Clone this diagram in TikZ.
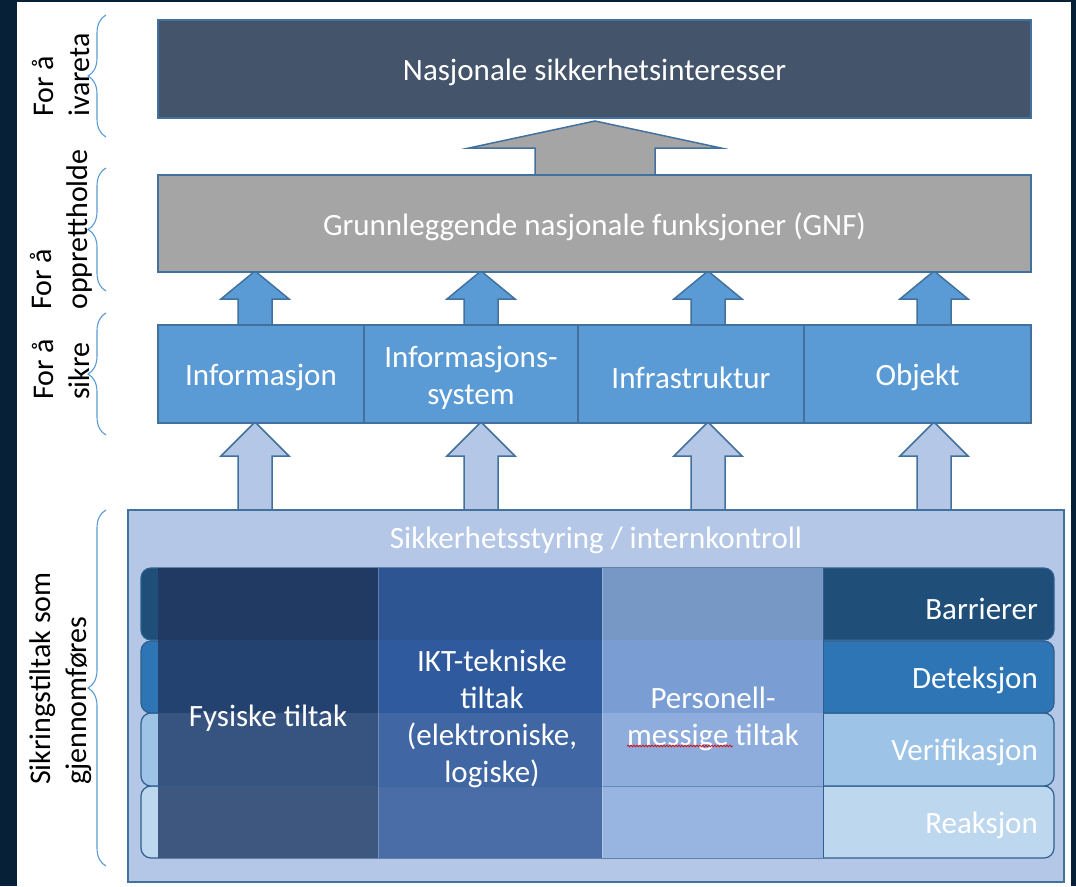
\documentclass[tikz,border=0pt]{standalone}
\usepackage{fontspec}
\setmainfont{Carlito}
\usetikzlibrary{decorations.pathreplacing,decorations.pathmorphing}
\definecolor{bgdark}{HTML}{062038}
\definecolor{topc}{HTML}{44546A}
\definecolor{gnfc}{HTML}{A5A5A5}
\definecolor{rowc}{HTML}{5B9BD5}
\definecolor{lightc}{HTML}{B4C7E7}
\definecolor{edge}{HTML}{41719C}
\definecolor{rowedge}{HTML}{2F5F8F}
\definecolor{rA}{HTML}{1F4E79}
\definecolor{rB}{HTML}{2E75B6}
\definecolor{rC}{HTML}{9DC3E6}
\definecolor{rD}{HTML}{BDD7EE}
\definecolor{cAa}{HTML}{213A63}
\definecolor{cAb}{HTML}{23426F}
\definecolor{cAc}{HTML}{37537F}
\definecolor{cAd}{HTML}{3E577F}
\definecolor{cBa}{HTML}{2D5591}
\definecolor{cBb}{HTML}{2F5A9D}
\definecolor{cBc}{HTML}{4066A3}
\definecolor{cBd}{HTML}{4A6DA8}
\definecolor{cCa}{HTML}{7797C4}
\definecolor{cCb}{HTML}{7A9ED4}
\definecolor{cCc}{HTML}{8EADDD}
\definecolor{cCd}{HTML}{98B4E0}
\definecolor{bracec}{HTML}{5B9BD5}
\newcommand\blkarrow[7]{\draw[#1] ({#2-#7},#5) -- ({#2-#7},#4) -- ({#2-#6},#4) -- (#2,#3) -- ({#2+#6},#4) -- ({#2+#7},#4) -- ({#2+#7},#5) -- cycle;}
\begin{document}
\begin{tikzpicture}[x=1pt,y=-1pt,
  txt/.style={text=white, font=\fontsize{31}{37}\selectfont, align=center, inner sep=0pt, yshift=-3.5pt},
  box/.style={draw=edge, line width=1.5pt, inner sep=0pt},
  lbl/.style={text=black, font=\fontsize{30}{36}\selectfont, align=left, inner sep=0pt, rotate=90, anchor=west},
  brc/.style={draw=bracec, line width=1.1pt, decorate, decoration={brace, amplitude=18pt}},
  grayarrow/.style={fill=gnfc, draw=edge, line width=1.5pt, line join=miter},
  bluearrow/.style={fill=rowc, draw=edge, line width=1.5pt, line join=miter},
  lightarrow/.style={fill=lightc, draw=edge, line width=1.5pt, line join=miter},
  rowbox/.style={draw=rowedge, line width=1.2pt, rounded corners=10pt},
  rowlbl/.style={txt, anchor=east}
]
\useasboundingbox (0,0) rectangle (1076,886);
\fill[bgdark] (0,0) rectangle (1076,886);
\fill[white] (17,2) rectangle (1071,886);

% left labels
\node[lbl] (l1) at (61,117) {For å\\ivareta};
\node[lbl] (l2) at (61,310) {For å\\opprettholde};
\node[lbl] (l3) at (61,400) {For å\\sikre};
\node[lbl] (l4) at (61,785) {Sikringstiltak som\\gjennomføres};
% braces
\coordinate (b1s) at (106,137); \coordinate (b1e) at (106,15);
\coordinate (b2s) at (106,291); \coordinate (b2e) at (106,168);
\coordinate (b3s) at (106,435); \coordinate (b3e) at (106,313);
\coordinate (b4s) at (106,866); \coordinate (b4e) at (106,510);
\draw[brc] (b1s) -- (b1e);
\draw[brc] (b2s) -- (b2e);
\draw[brc] (b3s) -- (b3e);
\draw[brc] (b4s) -- (b4e);

% arrows
\blkarrow{grayarrow}{595}{121}{148}{176}{126}{60}
\foreach \ax in {255,481,708,934}{
  \blkarrow{bluearrow}{\ax}{271}{299}{326}{34}{17}
  \blkarrow{lightarrow}{\ax}{422}{456}{511}{34}{17}
}

% top boxes
\node[box, fill=topc, minimum width=873pt, minimum height=98pt] (nsi) at (594.5,69) {};
\node[txt] (nsit) at (nsi.center) {Nasjonale sikkerhetsinteresser};
\node[box, fill=gnfc, minimum width=873pt, minimum height=97pt] (gnf) at (594.5,223.5) {};
\node[txt] (gnft) at (gnf.center) {Grunnleggende nasjonale funksjoner (GNF)};
\node[box, fill=rowc, minimum width=206pt, minimum height=98pt] (inf) at (261,374) {};
\node[txt] (inft) at (inf.center) {Informasjon};
\node[box, fill=rowc, minimum width=214pt, minimum height=98pt] (infs) at (471,374) {};
\node[txt] (infst) at (infs.center) {Informasjons-\\system};
\node[box, fill=rowc, minimum width=226pt, minimum height=98pt] (infr) at (691,374) {};
\node[txt] (infrt) at (infr.center) {Infrastruktur};
\node[box, fill=rowc, minimum width=227pt, minimum height=98pt] (obj) at (917.5,374) {};
\node[txt] (objt) at (obj.center) {Objekt};

% bottom panel
\node[box, fill=lightc, minimum width=936pt, minimum height=372pt] (panel) at (596,696) {};
\node[txt] (styr) at (596,537) {Sikkerhetsstyring / internkontroll};

% rows
\draw[rowbox, fill=rD] (141,786) rectangle (1054,858);
\draw[rowbox, fill=rC] (141,713) rectangle (1054,786);
\draw[rowbox, fill=rB] (141,641) rectangle (1054,713);
\draw[rowbox, fill=rA] (141,568) rectangle (1054,640);

% column cells
\fill[cAa] (158,568) rectangle (378,640);
\fill[cAb] (158,640) rectangle (378,713);
\fill[cAc] (158,713) rectangle (378,786);
\fill[cAd] (158,786) rectangle (378,858);
\fill[cBa] (378,568) rectangle (602,640);
\fill[cBb] (378,640) rectangle (602,713);
\fill[cBc] (378,713) rectangle (602,786);
\fill[cBd] (378,786) rectangle (602,858);
\fill[cCa] (602,568) rectangle (823,640);
\fill[cCb] (602,640) rectangle (823,713);
\fill[cCc] (602,713) rectangle (823,786);
\fill[cCd] (602,786) rectangle (823,858);
\draw[rowedge, line width=0.8pt, opacity=0.5] (158,786) -- (823,786);
\draw[rowedge, line width=1pt] (823,568) -- (823,858);
\draw[white, line width=0.8pt, opacity=0.25] (378,568) -- (378,858) (602,568) -- (602,858);

% column texts
\node[txt] (fys) at (268,715) {Fysiske tiltak};
\node[txt] (ikt) at (492,715) {IKT-tekniske\\tiltak\\(elektroniske,\\logiske)};
\node[txt] (pers) at (713,715) {Personell-\\messige tiltak};
\draw[red!85!black, line width=0.7pt, decorate, decoration={snake, amplitude=0.9pt, segment length=3pt}] (627,746) -- (733,746);

% row labels
\node[rowlbl] (barr) at (1038,605) {Barrierer};
\node[rowlbl] (det) at (1038,677) {Deteksjon};
\node[rowlbl] (ver) at (1038,749) {Verifikasjon};
\node[rowlbl] (rea) at (1038,822) {Reaksjon};
\end{tikzpicture}
\end{document}
